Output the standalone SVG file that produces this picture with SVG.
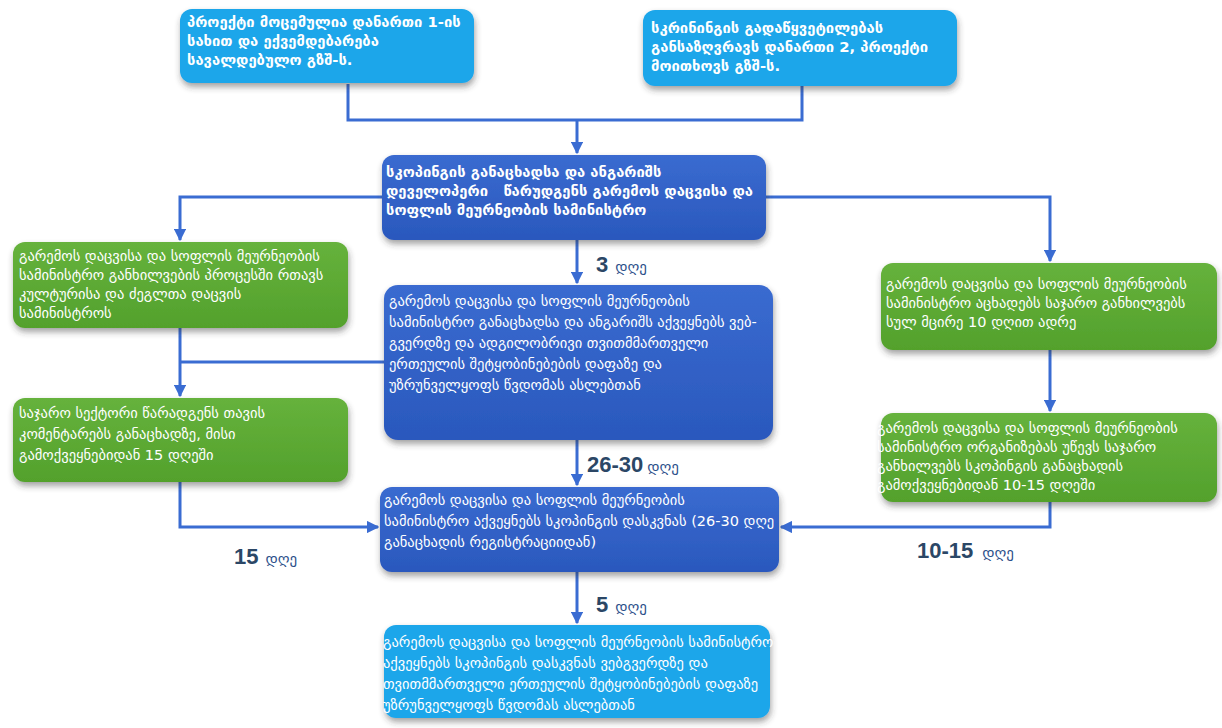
<svg xmlns="http://www.w3.org/2000/svg" width="1222" height="728" viewBox="0 0 1222 728">
<defs>
<filter id="sh" x="-10%" y="-10%" width="120%" height="130%">
<feDropShadow dx="1" dy="4" stdDeviation="3" flood-color="#333" flood-opacity="0.45"/>
</filter>
<marker id="ah" viewBox="0 0 10 10" refX="9" refY="5" markerWidth="4.2" markerHeight="4.2" orient="auto" markerUnits="strokeWidth">
<path d="M0,0 L10,5 L0,10 Z" fill="#3a6cd2"/>
</marker>
<linearGradient id="gDark" x1="0" y1="0" x2="0" y2="1">
<stop offset="0" stop-color="#3a6bd0"/>
<stop offset="1" stop-color="#2a58bd"/>
</linearGradient>
<linearGradient id="gGreen" x1="0" y1="0" x2="0" y2="1">
<stop offset="0" stop-color="#66b23c"/>
<stop offset="1" stop-color="#53a12c"/>
</linearGradient>
</defs>
<style>
.light{fill:#1ea6ea;filter:url(#sh)}
.dark{fill:url(#gDark);filter:url(#sh)}
.green{fill:url(#gGreen);filter:url(#sh)}
.t{font-family:"DejaVu Sans","Noto Sans",sans-serif;font-size:14.5px;fill:#ffffff;white-space:pre}
.b{font-weight:bold;font-size:14.8px}
.conn{fill:none;stroke:#3a6cd2;stroke-width:3}
.num{font-family:"Liberation Sans","Open Sans",sans-serif;font-weight:bold;font-size:22px;fill:#2b4766}
.day{font-family:"DejaVu Sans","Noto Sans",sans-serif;font-size:15px;fill:#2c4f8a}
</style>
<rect width="1222" height="728" fill="#ffffff"/>

<g id="connectors">
<path class="conn" d="M348,84 V120 H802 V86"/>
<path class="conn" d="M577,120 V153" marker-end="url(#ah)"/>
<path class="conn" d="M383,197 H180 V240" marker-end="url(#ah)"/>
<path class="conn" d="M765,197 H1050 V261" marker-end="url(#ah)"/>
<path class="conn" d="M577,240 V283" marker-end="url(#ah)"/>
<path class="conn" d="M180,328 V396" marker-end="url(#ah)"/>
<path class="conn" d="M385,362 H180"/>
<path class="conn" d="M577,440 V485" marker-end="url(#ah)"/>
<path class="conn" d="M1050,350 V411" marker-end="url(#ah)"/>
<path class="conn" d="M180,482 V527 H378" marker-end="url(#ah)"/>
<path class="conn" d="M1050,502 V527 H781" marker-end="url(#ah)"/>
<path class="conn" d="M577,572 V623" marker-end="url(#ah)"/>
</g>

<g id="n1">
<rect class="light" x="180" y="9" width="294" height="74" rx="12"/>
<text class="t b" x="187" y="27">პროექტი მოცემულია დანართი 1-ის</text>
<text class="t b" x="187" y="46">სახით და ექვემდებარება</text>
<text class="t b" x="187" y="65">სავალდებულო გზშ-ს.</text>
</g>

<g id="n2">
<rect class="light" x="643" y="10" width="314" height="76" rx="12"/>
<text class="t b" x="651" y="33">სკრინინგის გადაწყვეტილებას</text>
<text class="t b" x="651" y="52">განსაზღვრავს დანართი 2, პროექტი</text>
<text class="t b" x="651" y="71">მოითხოვს გზშ-ს.</text>
</g>

<g id="n3">
<rect class="dark" x="382" y="155" width="384" height="85" rx="12"/>
<text class="t b" x="386" y="177">სკოპინგის განაცხადსა და ანგარიშს</text>
<text class="t b" x="386" y="196">დეველოპერი   წარუდგენს გარემოს დაცვისა და</text>
<text class="t b" x="386" y="215">სოფლის მეურნეობის სამინისტრო</text>
</g>

<g id="n4">
<rect class="green" x="13" y="242" width="335" height="86" rx="12"/>
<text class="t" x="19" y="261">გარემოს დაცვისა და სოფლის მეურნეობის</text>
<text class="t" x="19" y="280">სამინისტრო განხილვების პროცესში რთავს</text>
<text class="t" x="19" y="299">კულტურისა და ძეგლთა დაცვის</text>
<text class="t" x="19" y="318">სამინისტროს</text>
</g>

<g id="n5">
<rect class="dark" x="384" y="285" width="389" height="155" rx="14"/>
<text class="t" x="389" y="306">გარემოს დაცვისა და სოფლის მეურნეობის</text>
<text class="t" x="389" y="327">სამინისტრო განაცხადსა და ანგარიშს აქვეყნებს ვებ-</text>
<text class="t" x="389" y="348">გვერდზე და ადგილობრივი თვითმმართველი</text>
<text class="t" x="389" y="369">ერთეულის შეტყობინებების დაფაზე და</text>
<text class="t" x="389" y="390">უზრუნველყოფს წვდომას ასლებთან</text>
</g>

<g id="n6">
<rect class="green" x="881" y="263" width="336" height="87" rx="12"/>
<text class="t" x="886" y="289">გარემოს დაცვისა და სოფლის მეურნეობის</text>
<text class="t" x="886" y="308">სამინისტრო აცხადებს საჯარო განხილვებს</text>
<text class="t" x="886" y="327">სულ მცირე 10 დღით ადრე</text>
</g>

<g id="n7">
<rect class="green" x="13" y="398" width="335" height="84" rx="12"/>
<text class="t" x="19" y="418">საჯარო სექტორი წარადგენს თავის</text>
<text class="t" x="19" y="439">კომენტარებს განაცხადზე, მისი</text>
<text class="t" x="19" y="460">გამოქვეყნებიდან 15 დღეში</text>
</g>

<g id="n8">
<rect class="green" x="881" y="413" width="336" height="89" rx="12"/>
<text class="t" x="877" y="433">გარემოს დაცვისა და სოფლის მეურნეობის</text>
<text class="t" x="877" y="452">სამინისტრო ორგანიზებას უწევს საჯარო</text>
<text class="t" x="877" y="471">განხილვებს სკოპინგის განაცხადის</text>
<text class="t" x="877" y="490">გამოქვეყნებიდან 10-15 დღეში</text>
</g>

<g id="n9">
<rect class="dark" x="380" y="487" width="399" height="85" rx="12"/>
<text class="t" x="384" y="505">გარემოს დაცვისა და სოფლის მეურნეობის</text>
<text class="t" x="384" y="526">სამინისტრო აქვეყნებს სკოპინგის დასკვნას (26-30 დღე</text>
<text class="t" x="384" y="547">განაცხადის რეგისტრაციიდან)</text>
</g>

<g id="n10">
<rect class="light" x="384" y="625" width="386" height="93" rx="12"/>
<text class="t" x="383" y="647">გარემოს დაცვისა და სოფლის მეურნეობის სამინისტრო</text>
<text class="t" x="383" y="668">აქვეყნებს სკოპინგის დასკვნას ვებგვერდზე და</text>
<text class="t" x="383" y="689">თვითმმართველი ერთეულის შეტყობინებების დაფაზე</text>
<text class="t" x="383" y="710">უზრუნველყოფს წვდომას ასლებთან</text>
</g>

<g id="labels">
<text x="596" y="272"><tspan class="num">3</tspan><tspan class="day" dx="7">დღე</tspan></text>
<text x="587" y="472"><tspan class="num">26-30</tspan><tspan class="day" dx="4">დღე</tspan></text>
<text x="234" y="564"><tspan class="num">15</tspan><tspan class="day" dx="7">დღე</tspan></text>
<text x="917" y="558"><tspan class="num">10-15</tspan><tspan class="day" dx="9">დღე</tspan></text>
<text x="596" y="612"><tspan class="num">5</tspan><tspan class="day" dx="7">დღე</tspan></text>
</g>
</svg>
